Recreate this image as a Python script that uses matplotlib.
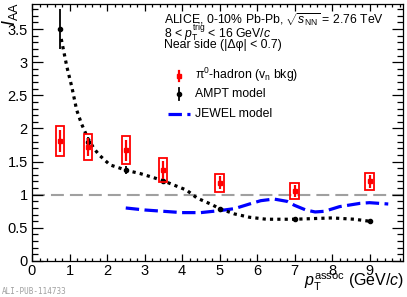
import matplotlib
matplotlib.use("Agg")
import matplotlib.pyplot as plt
from matplotlib.patches import Rectangle
from matplotlib.ticker import MultipleLocator

plt.rcParams['font.family'] = ['Liberation Sans', 'DejaVu Sans']
plt.rcParams['mathtext.fontset'] = 'custom'
plt.rcParams['mathtext.rm'] = 'Liberation Sans'
plt.rcParams['mathtext.it'] = 'Liberation Sans:italic'
plt.rcParams['mathtext.bf'] = 'Liberation Sans:bold'

# ---- data ----
pi0_x = [0.75, 1.5, 2.5, 3.5, 5.0, 7.0, 9.0]
pi0_y = [1.81, 1.72, 1.67, 1.37, 1.18, 1.05, 1.20]
pi0_stat = [0.17, 0.14, 0.16, 0.14, 0.10, 0.09, 0.10]
pi0_sys = [0.22, 0.19, 0.21, 0.18, 0.14, 0.12, 0.13]

ampt_x = [0.75, 1.5, 2.5, 3.5, 5.0, 7.0, 9.0]
ampt_y = [3.50, 1.80, 1.38, 1.21, 0.79, 0.63, 0.60]
ampt_err = [0.30, 0.07, 0.06, 0.04, 0.03, 0.02, 0.02]

ampt_curve_x = [0.78, 0.93, 1.06, 1.19, 1.32, 1.49, 1.65, 1.79, 2.08, 2.35, 2.5,
                2.88, 3.23, 3.5, 4.12, 4.4, 4.8, 5.0, 5.4, 5.8, 6.25, 7.0, 7.5,
                8.0, 8.6, 9.0]
ampt_curve_y = [3.35, 2.93, 2.63, 2.28, 2.07, 1.85, 1.70, 1.60, 1.45, 1.40, 1.37,
                1.32, 1.26, 1.21, 1.07, 0.95, 0.85, 0.79, 0.71, 0.66, 0.63, 0.63, 0.64,
                0.65, 0.63, 0.60]

jewel_x = [2.5, 3.0, 3.5, 4.0, 4.5, 5.0, 5.4, 5.8, 6.1, 6.45, 6.8, 7.0, 7.3,
           7.55, 7.8, 8.2, 8.75, 9.0, 9.5]
jewel_y = [0.80, 0.77, 0.75, 0.73, 0.73, 0.76, 0.79, 0.86, 0.91, 0.935, 0.90,
           0.84, 0.77, 0.74, 0.75, 0.82, 0.87, 0.88, 0.86]

W, H = 407, 297
fig = plt.figure(figsize=(W / 100, H / 100), dpi=100)
ax = fig.add_axes([32 / W, 1 - 261 / H, (402.5 - 32) / W, (261 - 3.5) / H])
ax.set_xlim(0, 9.88)
ax.set_ylim(0, 3.885)

def fx(px):
    return px / W

def fy(py):
    return 1 - py / H

# reference line
ax.axhline(1.0, color='#a0a0a0', lw=1.5, ls=(0, (6.2, 2.9)), zorder=1)

# JEWEL
ax.plot(jewel_x, jewel_y, color='#0000ff', lw=2.3, ls=(0, (4.2, 1.7)), zorder=2)

# AMPT curve
ax.plot(ampt_curve_x, ampt_curve_y, color='black', lw=2.3, ls=(0, (1.0, 1.3)),
        dash_capstyle='butt', zorder=3)
ax.errorbar(ampt_x, ampt_y, yerr=ampt_err, fmt='o', color='black', ms=3,
            elinewidth=1.3, capsize=0, zorder=4)

# pi0-hadron
bw = 0.11
for x, y, s in zip(pi0_x, pi0_y, pi0_sys):
    ax.add_patch(Rectangle((x - bw, y - s), 2 * bw, 2 * s, fill=False,
                           edgecolor='#ff0000', lw=1.3, zorder=5))
ax.errorbar(pi0_x, pi0_y, yerr=pi0_stat, fmt='s', color='#ff0000', ms=3.5,
            elinewidth=1.6, capsize=0, zorder=6)

# ticks
ax.xaxis.set_major_locator(MultipleLocator(1))
ax.xaxis.set_minor_locator(MultipleLocator(0.2))
ax.yaxis.set_major_locator(MultipleLocator(0.5))
ax.yaxis.set_minor_locator(MultipleLocator(0.1))
ax.tick_params(axis='both', which='both', direction='in', top=True, right=True,
               labelsize=10.5, width=0.9)
ax.tick_params(axis='x', which='major', length=5, pad=2.5)
ax.tick_params(axis='x', which='minor', length=2.5)
ax.tick_params(axis='y', which='major', length=8, pad=3)
ax.tick_params(axis='y', which='minor', length=4)
ax.set_yticks([0, 0.5, 1, 1.5, 2, 2.5, 3, 3.5])
ax.set_yticklabels(['0', '0.5', '1', '1.5', '2', '2.5', '3', '3.5'])
for sp in ax.spines.values():
    sp.set_linewidth(0.9)

# axis titles
fig.text(fx(10), fy(2), r'$I_{\rm AA}$', rotation=90, ha='center', va='top',
         fontsize=13)
fig.text(fx(404), fy(286.5), r'$p_{\rm T}^{\rm assoc}$ (GeV/$c$)', ha='right',
         va='baseline', fontsize=11.5)

# header
fs = 8.8
fig.text(fx(164), fy(20), r'ALICE, 0-10% Pb-Pb, $\sqrt{s_{\rm NN}}$ = 2.76 TeV',
         ha='left', va='center', fontsize=fs)
fig.text(fx(164), fy(33), r'8 < $p_{\rm T}^{\rm trig}$ < 16 GeV/$c$',
         ha='left', va='center', fontsize=fs)
fig.text(fx(164), fy(45), 'Near side (|Δφ| < 0.7)',
         ha='left', va='center', fontsize=fs)

# legend
tx = 195
fig.text(fx(tx), fy(75), r'π$^{0}$-hadron (v$_{\rm n}$ bkg)', ha='left',
         va='center', fontsize=fs)
fig.text(fx(tx), fy(94), 'AMPT model', ha='left', va='center', fontsize=fs)
fig.text(fx(tx), fy(114), 'JEWEL model', ha='left', va='center', fontsize=fs)

fig.lines.append(plt.Line2D([fx(178.5), fx(178.5)], [fy(71), fy(81)],
                            transform=fig.transFigure, color='#ff0000', lw=1.6))
fig.lines.append(plt.Line2D([fx(178.5)], [fy(76)], transform=fig.transFigure,
                            color='#ff0000', marker='s', ms=3.5, ls='none'))
fig.lines.append(plt.Line2D([fx(178.5), fx(178.5)], [fy(88), fy(100)],
                            transform=fig.transFigure, color='black', lw=1.3))
fig.lines.append(plt.Line2D([fx(178.5)], [fy(94)], transform=fig.transFigure,
                            color='black', marker='o', ms=3, ls='none'))
fig.lines.append(plt.Line2D([fx(168), fx(190)], [fy(114), fy(114)],
                            transform=fig.transFigure, color='#0000ff', lw=2.3,
                            ls=(0, (4.2, 1.7))))

# watermark
fig.text(fx(2), fy(291), 'ALI-PUB-114733', ha='left', va='center',
         fontsize=5.5, color='#a0a0a0', family='DejaVu Sans Mono')

fig.savefig('out.png', dpi=100)
